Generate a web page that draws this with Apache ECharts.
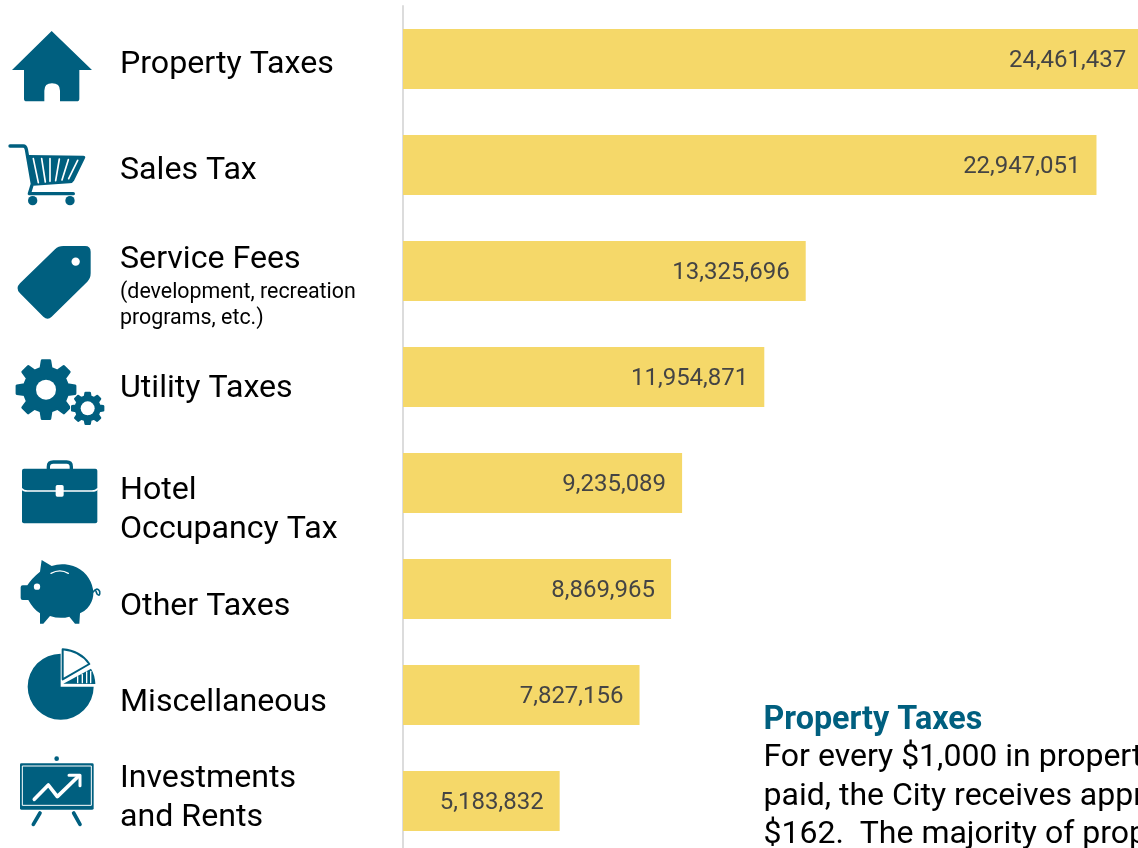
<!DOCTYPE html>
<html><head><meta charset="utf-8">
<style>html,body{margin:0;padding:0;background:#fff;overflow:hidden}#c{width:1138px;height:848px}</style>
<script src="https://cdn.jsdelivr.net/npm/echarts@6/dist/echarts.min.js"></script>
</head><body><div id="c"></div>
<script>
const categories = ['Property Taxes','Sales Tax','Service Fees','Utility Taxes','Hotel Occupancy Tax','Other Taxes','Miscellaneous','Investments and Rents'];
const values = [24461437,22947051,13325696,11954871,9235089,8869965,7827156,5183832];
const labelLines = {
  'Property Taxes':['Property Taxes'],
  'Sales Tax':['Sales Tax'],
  'Service Fees':['Service Fees','~(development, recreation','~programs, etc.)'],
  'Utility Taxes':['Utility Taxes'],
  'Hotel Occupancy Tax':['Hotel','Occupancy Tax'],
  'Other Taxes':['Other Taxes'],
  'Miscellaneous':['Miscellaneous'],
  'Investments and Rents':['Investments','and Rents']
};
const labelShift = [6,6,15,12,27,18,8,-3];
const noteTitle = 'Property Taxes';
const noteLines = ['For every $1,000 in property taxes','paid, the City receives approximately','$162.  The majority of property'];

const BLUE = '#005f7f', W = '#fff';
function gear(cx,cy,R,r,n){
  let d='';const step=Math.PI*2/n;
  for(let i=0;i<n;i++){
    const a=i*step-Math.PI/2;
    const pts=[[r,a-step*.30],[R,a-step*.17],[R,a+step*.17],[r,a+step*.30]];
    pts.forEach((p,k)=>{d+=((i===0&&k===0)?'M':'L')+(cx+p[0]*Math.cos(p[1])).toFixed(1)+' '+(cy+p[0]*Math.sin(p[1])).toFixed(1)+' ';});
  }
  return d+'Z';
}
const P=(d,o)=>({type:'path',shape:{pathData:d},style:Object.assign({fill:BLUE},o||{})});
const S=(d,c,w)=>({type:'path',shape:{pathData:d},style:{fill:'none',stroke:c,lineWidth:w,lineCap:'round',lineJoin:'round'}});
const C=(x,y,r,c)=>({type:'circle',shape:{cx:x,cy:y,r:r},style:{fill:c}});
const icons=[
 {oy:-39,parts:[P('M155 33 L276 150 L238 150 L238 236 Q238 244 230 244 L180 244 L180 212 Q180 190 156 190 Q133 190 133 212 L133 244 L80 244 Q72 244 72 236 L72 150 L36 150 Z')]},
 {oy:-145,parts:[
   S('M30 378 H70 Q77 378 79 388 L97 492 L88 521 H220',BLUE,10),
   P('M84 405 L250 407 Q258 408 255 415 L222 482 Q218 490 208 490 L100 497 Z'),
   S('M100 416 L115 488',W,5),S('M125 416 L136 486',W,5),S('M150 416 L150 484',W,5),
   S('M178 417 L167 482',W,5),S('M205 419 L186 480',W,5),S('M233 421 L206 476',W,5),
   C(98,542,14,BLUE),C(210,542,14,BLUE)]},
 {oy:-41,parts:[
   P('M165 58 Q175 48 190 48 L255 48 Q272 48 272 65 L272 130 Q272 145 262 155 L155 260 Q143 272 130 260 L60 190 Q45 175 60 160 Z'),
   C(227,95,12.5,W)]},
 {oy:-147,parts:[
   P(gear(138,479,88,66,8),{stroke:BLUE,lineWidth:8,lineJoin:'round'}),C(138,479,30,W),
   P(gear(263,535,47,36,8),{stroke:W,lineWidth:12,lineJoin:'round'}),
   P(gear(263,535,47,36,8),{stroke:BLUE,lineWidth:7,lineJoin:'round'}),C(263,535,21,W)]},
 {oy:-33,parts:[
   S('M145 58 V50 Q145 36 160 36 H200 Q214 36 214 50 V58',BLUE,10),
   P('M66 62 Q66 56 72 56 H286 Q292 56 292 62 V214 Q292 220 286 220 H72 Q66 220 66 214 Z'),
   S('M66 117 Q70 123 82 123 H276 Q288 123 292 117',W,5),
   P('M172 105 H186 Q191 105 191 110 V135 Q191 140 186 140 H172 Q167 140 167 135 V110 Q167 105 172 105 Z',{fill:W})]},
 {oy:-139,parts:[
   P('M125 330 L155 348 Q175 341 195 343 Q248 348 272 395 Q292 440 262 475 Q252 486 240 490 L238 521 L225 521 L208 500 Q180 508 150 498 L130 521 L120 521 L120 490 Q100 478 85 450 L68 450 Q62 450 62 444 L62 412 Q62 406 68 406 L82 406 Q95 385 120 365 Z'),
   C(111,410,9.5,W),
   S('M153 370 Q180 355 205 370',W,4),
   S('M279 426 Q292 410 299 424 Q301 442 291 432 L288 424',BLUE,5)]},
 {oy:-55,parts:[
   P('M182 140 L182 41 A99 99 0 1 0 281 140 Z'),
   P('M188 118 L188 28 Q240 32 268 72 Z',{fill:W,stroke:BLUE,lineWidth:6,lineJoin:'round'}),
   P('M190 131 L273 86 Q285 105 286 132 Z'),
   S('M233 110 V128',W,4),S('M247 103 V128',W,4),S('M260 96 V128',W,4),S('M272 94 V128',W,4)]},
 {oy:-161,parts:[
   C(170,356,7,BLUE),
   P('M64 370 H277 Q281 370 281 374 V505 Q281 509 277 509 H64 Q60 509 60 505 V374 Q60 370 64 370 Z'),
   {type:'rect',shape:{x:67,y:378,width:207,height:118},style:{fill:'none',stroke:W,lineWidth:3}},
   S('M103 478 L145 435 L172 470 L236 408',W,11),
   S('M207 406 H240 V437',W,9),
   S('M120 519 L100 553',BLUE,11),S('M221 519 L240 553',BLUE,11)]}
];

const shifts=[...new Set(labelShift.map(v=>Math.abs(v)))];
const rich={
  big:{fontFamily:'Roboto',fontSize:32.15,lineHeight:39,color:'#000'},
  small:{fontFamily:'Roboto',fontSize:21.4,lineHeight:26,color:'#000'}
};
shifts.forEach(s=>{rich['sp'+s]={fontSize:1,height:s*2,lineHeight:s*2,color:'#fff'};});

const chart=echarts.init(document.getElementById('c'),null,{renderer:'canvas'});
chart.setOption({
  animation:false,
  grid:{left:403,top:6,width:750,height:848,containLabel:false,outerBoundsMode:'none'},
  xAxis:{type:'value',min:0,max:24817000,show:false},
  yAxis:{type:'category',data:categories,inverse:true,
    axisLine:{show:true,lineStyle:{color:'#dcdcdc',width:2}},axisTick:{show:false},splitLine:{show:false},
    axisLabel:{interval:0,align:'left',margin:283,rich:rich,
      formatter:(name,idx)=>{
        const s=labelShift[idx];
        const body=labelLines[name].map(t=>t[0]==='~'?`{small|${t.slice(1)}}`:`{big|${t}}`).join('\n');
        return s>0?`{sp${s}| }\n${body}`:`${body}\n{sp${-s}| }`;
      }}},
  series:[
   {type:'bar',data:values,barWidth:60,itemStyle:{color:'#f5d869'},silent:true,
    label:{show:true,position:'insideRight',distance:16,offset:[0,2],fontFamily:'Roboto',fontSize:24,color:'#444444',
      formatter:p=>p.value.toLocaleString('en-US')}},
   {type:'custom',silent:true,clip:false,encode:{x:0,y:1},
    data:categories.map((c,i)=>[0,i]),
    renderItem:(params,api)=>{
      const i=api.value(1), ic=icons[i], pt=api.coord([0,i]);
      return {type:'group',x:pt[0]-403,y:pt[1]+ic.oy,scaleX:1/3,scaleY:1/3,children:ic.parts};
    }}
  ],
  graphic:[
    {type:'text',left:763.5,top:705,style:{text:noteTitle,fontFamily:'Roboto',fontWeight:'bold',fontSize:32.3,fill:BLUE}},
    {type:'text',left:763.5,top:739,style:{text:noteLines.join('\n'),fontFamily:'Roboto',fontSize:32,lineHeight:38.5,fill:'#000'}}
  ]
});
</script></body></html>
